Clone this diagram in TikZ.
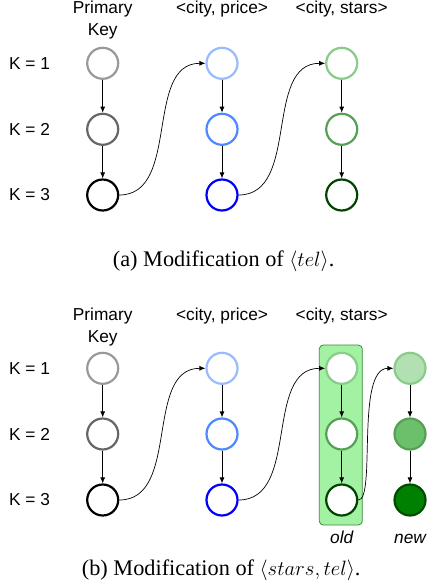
\documentclass[tikz,border=0pt]{standalone}
\usepackage{fontspec}
\setmainfont{Liberation Serif}
\setsansfont{Liberation Sans}
\usetikzlibrary{arrows.meta}
\definecolor{pkA}{HTML}{999999}
\definecolor{pkB}{HTML}{666666}
\definecolor{pkC}{HTML}{000000}
\definecolor{prA}{HTML}{99BBFF}
\definecolor{prB}{HTML}{4D88FF}
\definecolor{prC}{HTML}{0000FF}
\definecolor{stA}{HTML}{88CC88}
\definecolor{stB}{HTML}{55A055}
\definecolor{stC}{HTML}{004400}
\definecolor{nwA}{HTML}{B3E0B3}
\definecolor{nwB}{HTML}{6CC06C}
\definecolor{nwC}{HTML}{008000}
\definecolor{nwCd}{HTML}{004D00}
\definecolor{boxfill}{HTML}{A3F2A3}
\definecolor{boxline}{HTML}{3A8A3A}
\begin{document}
\begin{tikzpicture}[x=1pt,y=-1pt,
  rec/.style={circle,draw=#1,line width=2.2pt,fill=white,minimum size=31pt,inner sep=0pt},
  recf/.style 2 args={circle,draw=#1,fill=#2,line width=2.2pt,minimum size=31pt,inner sep=0pt},
  lbl/.style={font=\sffamily\fontsize{17.3}{20}\selectfont,inner sep=0pt},
  captxt/.style={font=\rmfamily\fontsize{22.3}{26}\selectfont,inner sep=0pt,anchor=base west},
  arr/.style={-{Latex[length=6pt,width=5pt]},line width=0.8pt},
  link/.style={-{Latex[length=6pt,width=5pt]},line width=0.7pt}]
\useasboundingbox (0,0) rectangle (427,586);

% ---------- (a) ----------
\node[lbl,anchor=base] (hpk1) at (102.7,14) {Primary};
\node[lbl,anchor=base] (hpk2) at (102.7,36) {Key};
\node[lbl,anchor=base] (hpr) at (222,14) {<city, price>};
\node[lbl,anchor=base] (hst) at (341.7,14) {<city, stars>};
\node[lbl] (ka1) at (29.5,63.3) {K = 1};
\node[lbl] (ka2) at (29.5,129.3) {K = 2};
\node[lbl] (ka3) at (29.5,195) {K = 3};

\node[rec=pkA] (a11) at (102.7,63.3) {};
\node[rec=pkB] (a12) at (102.7,129.3) {};
\node[rec=pkC] (a13) at (102.7,195) {};
\node[rec=prA] (a21) at (222,63.3) {};
\node[rec=prB] (a22) at (222,129.3) {};
\node[rec=prC] (a23) at (222,195) {};
\node[rec=stA] (a31) at (341.7,63.3) {};
\node[rec=stB] (a32) at (341.7,129.3) {};
\node[rec=stC] (a33) at (341.7,195) {};

\foreach \c in {1,2,3}{
  \draw[arr] (a\c1) -- (a\c2);
  \draw[arr] (a\c2) -- (a\c3);
}
\draw[link] (a13.east) to[out=0,in=180] (a21.west);
\draw[link] (a23.east) to[out=0,in=180] (a31.west);

\node[captxt] (capa) at (112.7,266) {(a) Modification of $\langle tel\rangle$.};

% ---------- (b) ----------
\node[lbl,anchor=base] (bpk1) at (102.7,320) {Primary};
\node[lbl,anchor=base] (bpk2) at (102.7,342) {Key};
\node[lbl,anchor=base] (bpr) at (222,320) {<city, price>};
\node[lbl,anchor=base] (bst) at (341.7,320) {<city, stars>};
\node[lbl] (kb1) at (29.5,368.3) {K = 1};
\node[lbl] (kb2) at (29.5,434) {K = 2};
\node[lbl] (kb3) at (29.5,500) {K = 3};

\node[draw=boxline,fill=boxfill,line width=0.8pt,rounded corners=4pt,minimum width=43pt,minimum height=180pt,inner sep=0pt] (oldbox) at (340.8,435) {};

\node[rec=pkA] (b11) at (102.7,368.3) {};
\node[rec=pkB] (b12) at (102.7,434) {};
\node[rec=pkC] (b13) at (102.7,500) {};
\node[rec=prA] (b21) at (222,368.3) {};
\node[rec=prB] (b22) at (222,434) {};
\node[rec=prC] (b23) at (222,500) {};
\node[rec=stA] (b31) at (341.7,368.3) {};
\node[rec=stB] (b32) at (341.7,434) {};
\node[rec=stC] (b33) at (341.7,500) {};
\node[recf={stA}{nwA}] (b41) at (410,368.3) {};
\node[recf={stB}{nwB}] (b42) at (410,434) {};
\node[recf={nwCd}{nwC}] (b43) at (410,500) {};

\foreach \c in {1,2,3,4}{
  \draw[arr] (b\c1) -- (b\c2);
  \draw[arr] (b\c2) -- (b\c3);
}
\draw[link] (b13.east) to[out=0,in=180] (b21.west);
\draw[link] (b23.east) to[out=0,in=180] (b31.west);
\draw[link] (b33.east) .. controls +(18,0) and +(-38,0) .. (b41.west);

\node[lbl,anchor=base,font=\sffamily\itshape\fontsize{17.3}{20}\selectfont] (lold) at (341.7,543) {old};
\node[lbl,anchor=base,font=\sffamily\itshape\fontsize{17.3}{20}\selectfont] (lnew) at (410,543) {new};

\node[captxt] (capb) at (81.7,575) {(b) Modification of $\langle stars, tel\rangle$.};
\end{tikzpicture}
\end{document}
